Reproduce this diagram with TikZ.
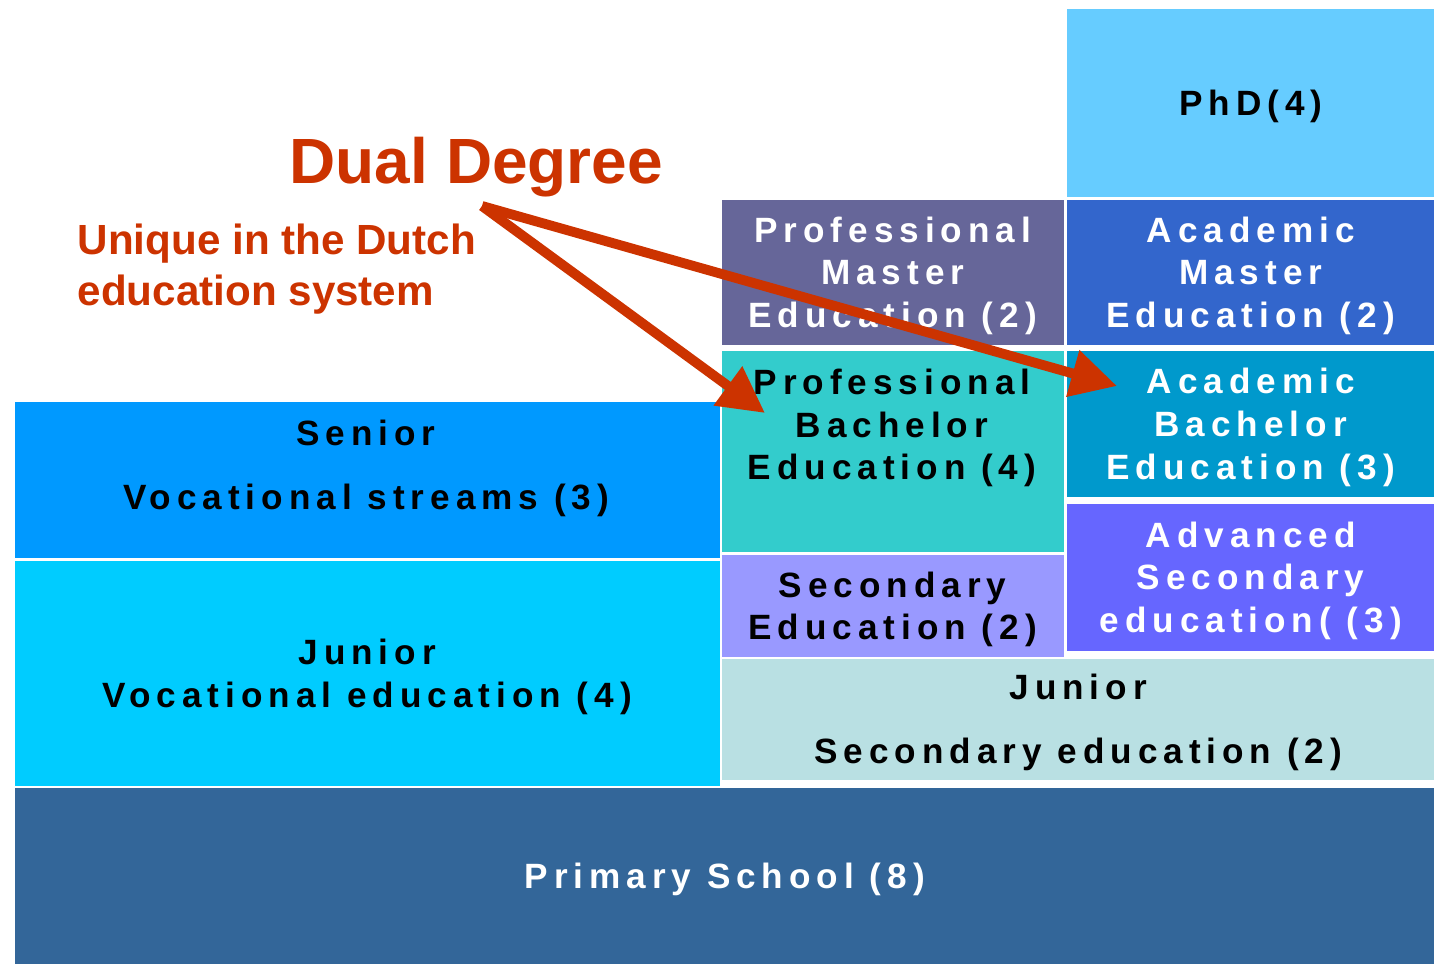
\documentclass[tikz,border=0pt]{standalone}
\usepackage{fontspec}
\setmainfont{Liberation Sans}
\newfontfamily\spacedfont[LetterSpace=17]{Liberation Sans}
\usetikzlibrary{arrows.meta}
\definecolor{phdblue}{HTML}{66CCFF}
\definecolor{amasterblue}{HTML}{3366CC}
\definecolor{pmastergrey}{HTML}{666699}
\definecolor{pbachteal}{HTML}{33CCCC}
\definecolor{abachblue}{HTML}{0099CC}
\definecolor{advviolet}{HTML}{6666FF}
\definecolor{secedlilac}{HTML}{9999FF}
\definecolor{jseclight}{HTML}{B9E0E3}
\definecolor{seniorblue}{HTML}{0099FF}
\definecolor{jvoccyan}{HTML}{00CCFF}
\definecolor{primaryblue}{HTML}{336699}
\definecolor{dualred}{HTML}{CC3300}
\begin{document}
\begin{tikzpicture}[x=0.1mm,y=-0.1mm]
	\tikzset{blk/.style = {anchor=north west, inner sep=0pt, align=center, text depth=0pt, font=\spacedfont\bfseries\fontsize{10}{12.2}\selectfont},
		lbl/.style = {inner sep=0pt, align=center, font=\spacedfont\bfseries\fontsize{10}{12.2}\selectfont},
		arr/.style = {draw=dualred, line width=2.8pt, -{Triangle[length=4.6mm,width=4.6mm]}}}

	\useasboundingbox (0,0) rectangle (1434,963);

	% right column
	\node[blk, fill=phdblue, minimum width=36.8mm, minimum height=18.8mm] (phd) at (1066,8) {PhD(4)};
	\node[blk, fill=amasterblue, text=white, minimum width=36.8mm, minimum height=14.5mm] (amaster) at (1066,199) {Academic\\Master\\Education (2)};
	\node[blk, fill=abachblue, text=white, minimum width=36.8mm, minimum height=14.6mm] (abach) at (1066,350) {Academic\\Bachelor\\Education (3)};
	\node[blk, fill=advviolet, text=white, minimum width=36.8mm, minimum height=14.7mm] (adv) at (1066,503) {Advanced\\Secondary\\education( (3)};

	% middle column
	\node[blk, fill=pmastergrey, text=white, minimum width=34.2mm, minimum height=14.5mm] (pmaster) at (721,199) {Professional\\Master\\Education (2)};
	\node[blk, fill=pbachteal, minimum width=34.2mm, minimum height=20.1mm] (pbach) at (721,350) {};
	\node[lbl] (pbachtxt) at (892,428) {Professional\\Bachelor\\Education (4)};
	\node[blk, fill=secedlilac, minimum width=34.2mm, minimum height=10.2mm] (seced) at (721,554) {Secondary\\Education (2)};
	\node[blk, fill=jseclight, minimum width=71.3mm, minimum height=12.1mm] (jsec) at (721,658) {Junior\\[6pt]Secondary education (2)};

	% left column
	\node[blk, fill=seniorblue, minimum width=70.5mm, minimum height=15.6mm] (senior) at (14,401) {};
	\node[lbl] (seniortxt) at (366,468) {Senior\\[6pt]Vocational streams (3)};
	\node[blk, fill=jvoccyan, minimum width=70.5mm, minimum height=22.5mm] (jvoc) at (14,560) {Junior\\Vocational education (4)};
	\node[blk, fill=primaryblue, text=white, minimum width=142mm, minimum height=17.6mm] (primary) at (14,787) {Primary School (8)};

	% title
	\node[anchor=west, inner sep=0pt, text=dualred, font=\bfseries\fontsize{18.2}{20}\selectfont] (dual) at (289,167) {Dual Degree};
	\node[anchor=north west, inner sep=0pt, align=left, text=dualred, font=\bfseries\fontsize{12}{14.5}\selectfont] (unique) at (77,223) {Unique in the Dutch\\education system};

	\coordinate (src) at (482,206);
	\coordinate (pbachtip) at (765,413);
	\coordinate (abachtip) at (1117,386);

	\draw[arr] (src) -- (pbachtip);
	\draw[arr] (src) -- (abachtip);

\end{tikzpicture}
\end{document}
